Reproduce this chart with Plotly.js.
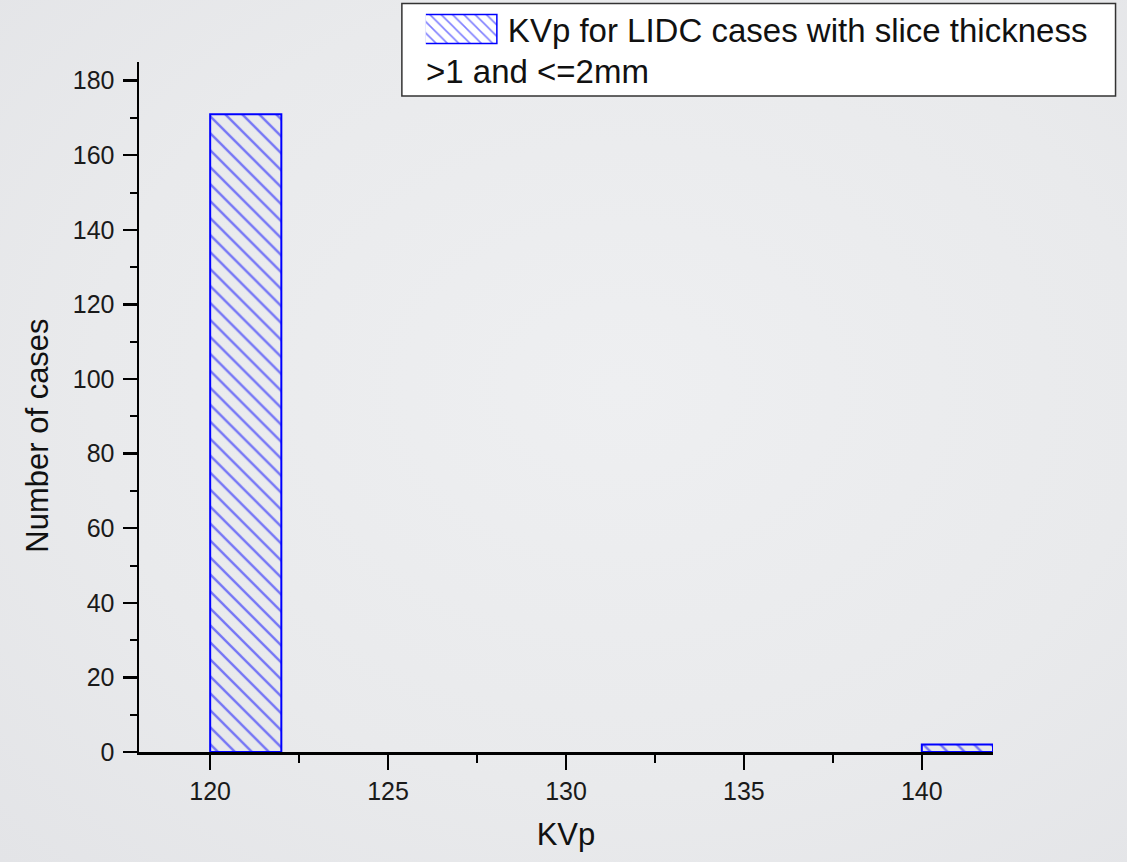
<!DOCTYPE html>
<html>
<head>
<meta charset="utf-8">
<script src="https://cdn.plot.ly/plotly-3.0.1.min.js"></script>
<style>
  html, body { margin: 0; padding: 0; width: 1127px; height: 862px; overflow: hidden;
    background: radial-gradient(ellipse at 55% 45%, #eeeff1 0%, #e9eaec 60%, #e3e4e7 100%); }
  #chart { width: 1127px; height: 862px; }
</style>
</head>
<body>
<div id="chart"></div>
<script>
// Data
const kvpBins = [120, 140];          // bin start (KVp)
const caseCounts = [171, 2];         // number of cases per bin
const binWidth = 2;
const seriesName = 'KVp for LIDC cases with slice thickness';
const seriesName2 = '>1 and <=2mm';
const xTitle = 'KVp';
const yTitle = 'Number of cases';

const L = 139, T = 62, W = 854.4, H = 689.7;
const px = x => (x - L) / W;
const py = y => (T + H - y) / H;

const trace = {
  type: 'bar',
  x: kvpBins,
  y: caseCounts,
  width: binWidth,
  offset: 0,
  name: seriesName,
  showlegend: true,
  marker: {
    color: 'rgba(0,0,0,0)',
    line: { color: '#0000ff', width: 2 },
    pattern: { shape: '\\', fgcolor: '#0000ff', bgcolor: 'rgba(0,0,0,0)', size: 12, solidity: 0.2, fillmode: 'overlay' }
  },
  hoverinfo: 'x+y'
};

const font = 'Liberation Sans, Arial, sans-serif';

const layout = {
  width: 1127, height: 862,
  paper_bgcolor: 'rgba(0,0,0,0)',
  plot_bgcolor: 'rgba(0,0,0,0)',
  margin: { l: L, t: T, r: 1127 - L - W, b: 862 - T - H, pad: 0, autoexpand: false },
  font: { family: font, color: '#000' },
  bargap: 0,
  xaxis: {
    range: [118, 142], tick0: 120, dtick: 5,
    showline: true, linecolor: '#000', linewidth: 2.5,
    ticks: 'outside', ticklen: 15, tickwidth: 2.5, tickcolor: '#000',
    minor: { dtick: 2.5, ticks: 'outside', ticklen: 8, tickwidth: 2, tickcolor: '#000' },
    showgrid: false, zeroline: false,
    tickfont: { size: 25, family: font, color: '#1a1a1a' },
    title: { text: xTitle, font: { size: 31, family: font, color: '#111' }, standoff: 20 }
  },
  yaxis: {
    range: [0, 185], tick0: 0, dtick: 20,
    showline: true, linecolor: '#000', linewidth: 2.5,
    ticks: 'outside', ticklen: 14, tickwidth: 2.5, tickcolor: '#000',
    minor: { dtick: 10, ticks: 'outside', ticklen: 7, tickwidth: 2, tickcolor: '#000' },
    showgrid: false, zeroline: false,
    tickfont: { size: 25, family: font, color: '#1a1a1a' },
    ticklabelstandoff: 3
  },
  showlegend: true,
  legend: {
    x: px(426), y: py(1), xanchor: 'left', yanchor: 'top',
    bgcolor: 'rgba(0,0,0,0)', borderwidth: 0,
    font: { size: 33, family: font, color: '#111' },
    itemwidth: 72, itemclick: false, itemdoubleclick: false
  },
  shapes: [{
    type: 'rect', xref: 'paper', yref: 'paper',
    x0: px(402), x1: px(1116), y0: py(96), y1: py(3.5),
    fillcolor: '#ffffff', line: { color: '#333', width: 1.5 }, layer: 'above'
  }],
  annotations: [
    { text: seriesName2, xref: 'paper', yref: 'paper', x: px(424), y: py(71),
      xanchor: 'left', yanchor: 'middle', showarrow: false,
      font: { size: 33, family: font, color: '#111' } },
    { text: yTitle, xref: 'paper', yref: 'paper', x: px(38), y: py(435.5),
      xanchor: 'center', yanchor: 'middle', showarrow: false, textangle: -90,
      font: { size: 31, family: font, color: '#111' } }
  ]
};

Plotly.newPlot('chart', [trace], layout, { displayModeBar: false, staticPlot: true }).then(gd => {
  // enlarge the legend swatch to match the wide hatched box of the original
  gd.querySelectorAll('.legend .legendpoints path').forEach(p => {
    p.setAttribute('d', 'M30,14.5H-42V-14.5H30Z');
    p.style.strokeWidth = '1.5px';
  });
});
</script>
</body>
</html>
